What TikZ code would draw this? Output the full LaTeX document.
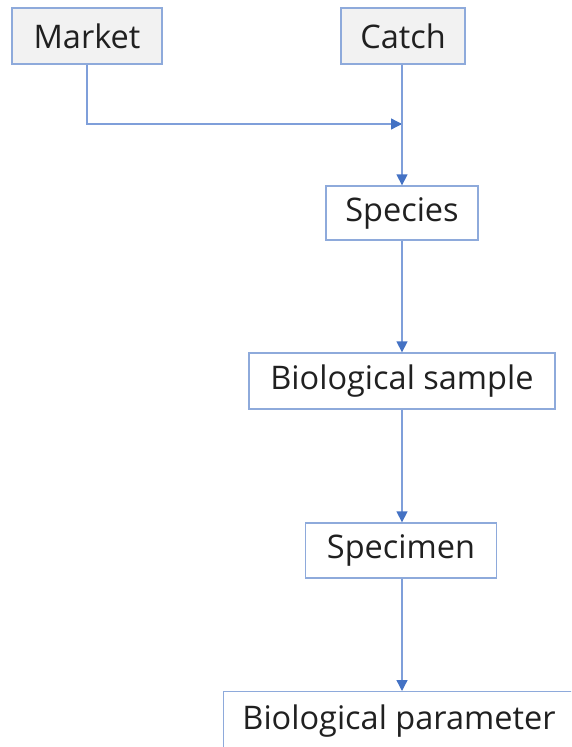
\documentclass[tikz,border=0pt]{standalone}
\usepackage{fontspec}
\setmainfont{Open Sans}
\usetikzlibrary{arrows.meta}
\definecolor{boxline}{HTML}{8EAADB}
\definecolor{conn}{HTML}{7F9FDA}
\definecolor{tip}{HTML}{4472C4}
\definecolor{boxfill}{HTML}{F2F2F2}
\definecolor{txtc}{HTML}{202020}
\tikzset{
  box/.style={draw=boxline, line width=1.3pt, fill=white, inner sep=0pt, text=txtc,
    font=\fontsize{32.5}{38}\selectfont},
  topbox/.style={box, fill=boxfill},
  txt/.style={inner sep=0pt, text=txtc, font=\fontsize{32.5}{38}\selectfont},
  conn/.style={draw=conn, line width=1.3pt, -{Triangle[length=11pt,width=11pt,color=tip]}},
  plain/.style={draw=conn, line width=1.3pt}
}
\begin{document}
\begin{tikzpicture}[x=1pt,y=-1pt]
\useasboundingbox (0,0) rectangle (571,747);
\clip (0,0) rectangle (571,747);
\node (market) [topbox, minimum width=150pt, minimum height=56pt] at (87,36) {Market};
\node (catch) [topbox, minimum width=124pt, minimum height=56pt] at (403,36) {Catch};
\node (species) [box, minimum width=152pt, minimum height=54pt] at (402,213) {Species};
\node (sample) [box, minimum width=306pt, minimum height=56pt] at (402,381) {Biological sample};
\node (specimen) [box, minimum width=191pt, minimum height=55pt] at (401,550.5) {Specimen};
\node (param) [box, anchor=north west, minimum width=390pt, minimum height=100pt] at (223,691) {};
\node (paramt) [txt] at (399,721) {Biological parameter};
\coordinate (join) at (402,124);
\draw[plain] (market.south) -- (market.south |- join) -- (join);
\draw[conn] (market.south |- join) -- (join);
\draw[conn] (catch.south -| join) -- (species.north -| join);
\draw[conn] (species.south -| join) -- (sample.north -| join);
\draw[conn] (sample.south -| join) -- (specimen.north -| join);
\draw[conn] (specimen.south -| join) -- (param.north -| join);
\end{tikzpicture}
\end{document}
